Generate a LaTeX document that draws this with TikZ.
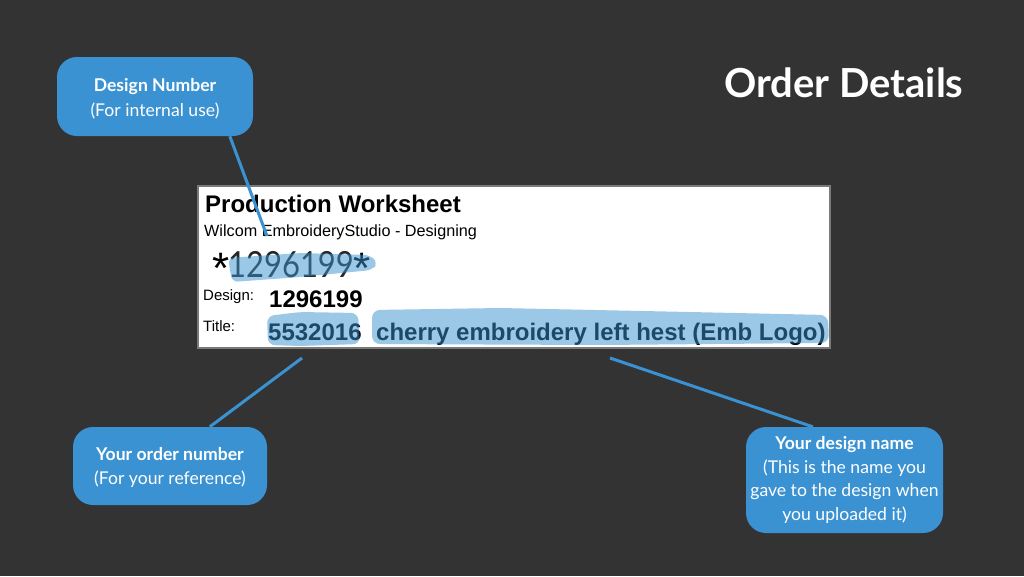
\documentclass[tikz,border=0pt]{standalone}
\usepackage{fontspec}
\usepackage{graphicx}
\newfontfamily\lato{Lato}
\newfontfamily\arial{Liberation Sans}
\usetikzlibrary{calc}
\definecolor{bgdark}{HTML}{333333}
\definecolor{boxblue}{HTML}{3A92D2}
\definecolor{wsborder}{HTML}{7A7A7A}
\begin{document}
\begin{tikzpicture}[x=1pt,y=-1pt,
  callout/.style={fill=boxblue, rounded corners=20pt, inner sep=0pt},
  calltext/.style={text=white, font=\lato\fontsize{17.6}{24.5}\selectfont, align=center, inner sep=0pt},
  conn/.style={draw=boxblue, line width=3pt},
  hl/.style={fill=boxblue, fill opacity=0.5, draw=none},
  ws/.style={anchor=base west, inner sep=0pt, text=black},
  wsbig/.style={font=\arial\bfseries\fontsize{24}{24}\selectfont},
  wssmall/.style={font=\arial\fontsize{15}{15}\selectfont}
]
\useasboundingbox (0,0) rectangle (1024,576);
\fill[bgdark] (0,0) rectangle (1024,576);

% title
\node[anchor=base west, inner sep=0pt, text=white, font=\lato\bfseries\fontsize{40}{40}\selectfont] (title) at (724,97.7) {Order Details};

% worksheet
\node[draw=wsborder, line width=2pt, fill=white, minimum width=632pt, minimum height=162pt, inner sep=0pt, anchor=north west] (wsb) at (197,185) {};
\node[ws, wsbig] (pw) at (205,212) {Production Worksheet};
\node[ws, font=\arial\fontsize{16.2}{16.2}\selectfont] (wil) at (204,236) {Wilcom EmbroideryStudio - Designing};
\node[ws, font=\arial\fontsize{44}{44}\selectfont] (st1) at (212,283) {\smash{*}};
\node[ws, text=black!85] (bn) at (228,277) {\scalebox{0.86}[1]{\lato\fontsize{36}{36}\selectfont\smash{1296199}}};
\node[ws, font=\arial\fontsize{44}{44}\selectfont] (st2) at (353,283) {\smash{*}};
\node[ws, wssmall] (dl) at (203,300) {Design:};
\node[ws, wsbig] (dv) at (269,307) {1296199};
\node[ws, wssmall] (tl) at (203,331) {Title:};
\node[ws, wsbig] (tv1) at (268,340) {5532016};
\node[ws, wsbig] (tv2) at (376,340) {cherry embroidery left hest (Emb Logo)};

% highlights
\fill[hl, rounded corners=6pt] (228,258) -- (300,253) -- (370,255) -- (378,263) -- (372,270) -- (300,277) -- (232,282) -- cycle;
\fill[hl, rounded corners=7pt] (267,316) -- (300,312) -- (358,313) -- (360,344) -- (300,346) -- (268,345) -- cycle;
\fill[hl, rounded corners=8pt] (372,310) -- (500,308) -- (690,312) -- (828,315) -- (829,343) -- (600,345) -- (372,344) -- cycle;

% callout boxes
\node[callout, minimum width=196pt, minimum height=79pt] (dnb) at (155,96.5) {};
\node[calltext] (dnt) at (155,98.5) {\bfseries Design Number\\(For internal use)};

\node[callout, minimum width=194pt, minimum height=78pt] (ob) at (170,466) {};
\node[calltext] (obt) at (170,467.7) {\bfseries Your order number\\(For your reference)};

\node[callout, minimum width=197pt, minimum height=106pt] (nb) at (844.5,480) {};
\node[calltext, font=\lato\fontsize{17.6}{23.5}\selectfont] (nbt) at (844.5,480) {\bfseries Your design name\\(This is the name you\\gave to the design when\\you uploaded it)};

% connectors
\coordinate (t1) at (267,236);
\coordinate (t2) at (302,358);
\coordinate (t3) at (610,358);
\draw[conn] ([xshift=173pt]dnb.south west) -- (t1);
\draw[conn] ([xshift=137pt]ob.north west) -- (t2);
\draw[conn] ([xshift=67pt]nb.north west) -- (t3);
\end{tikzpicture}
\end{document}
